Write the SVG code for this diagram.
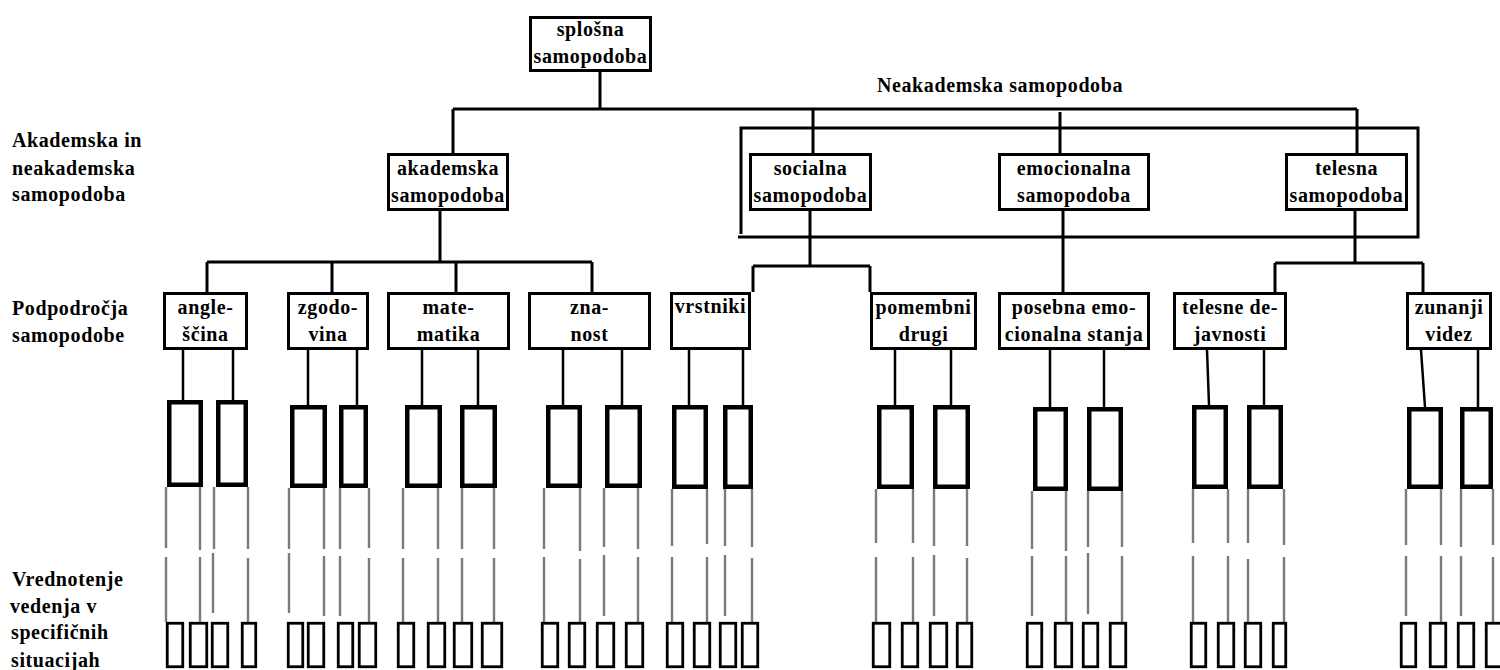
<svg xmlns="http://www.w3.org/2000/svg" width="1500" height="670" viewBox="0 0 1500 670">
<style>
.t{font-family:"Liberation Serif","Times New Roman",serif;font-weight:bold;font-size:20px;letter-spacing:0.6px;fill:#000}
.c{text-anchor:middle}
.box{fill:#fff;stroke:#000;stroke-width:3}
.mbox{fill:#fff;stroke:#000;stroke-width:4.5}
.sbox{fill:none;stroke:#000;stroke-width:2.8}
.ln{stroke:#000;stroke-width:3;fill:none}
.th{stroke:#000;stroke-width:2.5;fill:none}
.gr{stroke:#7a7a7a;stroke-width:2.4;fill:none}
</style>
<rect width="1500" height="670" fill="#fff"/>

<g id="labels">
<text class="t" x="12" y="147">Akademska in</text>
<text class="t" x="12" y="175">neakademska</text>
<text class="t" x="12" y="201">samopodoba</text>
<text class="t" x="12" y="315">Podpodročja</text>
<text class="t" x="12" y="342">samopodobe</text>
<text class="t" x="12" y="586">Vrednotenje</text>
<text class="t" x="10" y="613">vedenja v</text>
<text class="t" x="11" y="639">specifičnih</text>
<text class="t" x="11" y="667">situacijah</text>
<text class="t" x="877" y="92">Neakademska samopodoba</text>
</g>

<g id="connectors">
<path class="ln" d="M600,72 V109 M453,109 H1357 M453,109 V153 M813,109 V153 M1060,112 V153 M1357,109 V153"/>
<path class="ln" d="M741,234 V128 H1418 V237 H738"/>
<path class="ln" d="M440,211 V262 M207,262 H592 M207,262 V292 M332,262 V292 M456,262 V292 M592,262 V292"/>
<path class="ln" d="M810,211 V266 M753,266 H870 M753,266 V292 M870,266 V292"/>
<path class="ln" d="M1063,211 V292"/>
<path class="ln" d="M1355,211 V263 M1275,263 H1423 M1275,263 V292 M1423,263 V292"/>
<path class="th" d="M183,350 V400 M233,350 V400 M308,350 V405 M357,350 V405 M422,350 V405 M478,350 V405 M563,350 V405 M622,350 V405 M689,350 V405 M743,350 V405 M895,350 V405 M951,350 V405 M1050,350 V407 M1104,350 V407 M1207,350 L1209,405 M1264,350 V405 M1421,350 L1425,407 M1478,350 V407"/>
<path class="gr" d="M166,487 V548 M200,487 V550 M214,487 V549 M248,487 V549 M289,488 V549 M324,488 V549 M340,488 V549 M369,488 V548 M403,488 V549 M438,488 V549 M462,488 V549 M494,488 V549 M544,488 V549 M580,488 V551 M604,488 V547 M638,488 V549 M672,489 V546 M707,489 V544 M725,489 V546 M752,489 V547 M876,489 V543 M913,489 V543 M934,489 V546 M967,489 V546 M1032,491 V549 M1066,491 V551 M1088,491 V547 M1122,491 V547 M1193,489 V543 M1228,489 V543 M1248,489 V543 M1284,489 V545 M1406,489 V545 M1441,489 V545 M1461,489 V547 M1493,489 V545"/>
<path class="gr" d="M166,557 V622 M200,557 V622 M213,553 V613 M248,558 V622 M289,553 V613 M324,556 V616 M340,556 V616 M369,558 V622 M403,558 V622 M438,558 V622 M462,558 V622 M494,558 V622 M544,557 V622 M580,559 V622 M604,555 V616 M638,557 V622 M672,557 V622 M707,557 V622 M725,555 V616 M752,558 V622 M876,557 V622 M913,557 V622 M934,555 V616 M967,558 V622 M1032,556 V616 M1066,556 V622 M1088,553 V614 M1122,556 V622 M1193,556 V622 M1228,556 V622 M1248,559 V622 M1284,557 V622 M1406,556 V616 M1441,556 V622 M1461,556 V616 M1493,557 V622"/>
</g>

<g id="n-splosna"><rect class="box" x="530.5" y="17.5" width="120" height="53"/><text class="t c" x="590.5" y="36">splošna</text><text class="t c" x="590.5" y="63">samopodoba</text></g>

<g id="n-akademska"><rect class="box" x="388.5" y="154.5" width="119" height="55"/><text class="t c" x="448" y="175">akademska</text><text class="t c" x="448" y="202">samopodoba</text></g>
<g id="n-socialna"><rect class="box" x="750.5" y="154.5" width="120" height="55"/><text class="t c" x="810.5" y="175">socialna</text><text class="t c" x="810.5" y="202">samopodoba</text></g>
<g id="n-emocionalna"><rect class="box" x="999.5" y="154.5" width="149" height="55"/><text class="t c" x="1074" y="175">emocionalna</text><text class="t c" x="1074" y="202">samopodoba</text></g>
<g id="n-telesna"><rect class="box" x="1286.5" y="154.5" width="120" height="55"/><text class="t c" x="1346.5" y="175">telesna</text><text class="t c" x="1346.5" y="202">samopodoba</text></g>

<g id="n-anglescina"><rect class="box" x="164.5" y="293.5" width="82" height="55"/><text class="t c" x="205.5" y="314">angle-</text><text class="t c" x="205.5" y="341">ščina</text></g>
<g id="n-zgodovina"><rect class="box" x="288.5" y="293.5" width="79" height="55"/><text class="t c" x="328" y="314">zgodo-</text><text class="t c" x="328" y="341">vina</text></g>
<g id="n-matematika"><rect class="box" x="388.5" y="293.5" width="120" height="55"/><text class="t c" x="448.5" y="314">mate-</text><text class="t c" x="448.5" y="341">matika</text></g>
<g id="n-znanost"><rect class="box" x="529.5" y="293.5" width="120" height="55"/><text class="t c" x="589.5" y="314">zna-</text><text class="t c" x="589.5" y="341">nost</text></g>
<g id="n-vrstniki"><rect class="box" x="671.5" y="293.5" width="78" height="55"/><text class="t c" x="710.5" y="313">vrstniki</text></g>
<g id="n-pomembni"><rect class="box" x="871.5" y="293.5" width="104" height="55"/><text class="t c" x="923.5" y="314">pomembni</text><text class="t c" x="923.5" y="341">drugi</text></g>
<g id="n-posebna"><rect class="box" x="999.5" y="293.5" width="149" height="55"/><text class="t c" x="1074" y="314">posebna emo-</text><text class="t c" x="1074" y="341">cionalna stanja</text></g>
<g id="n-telesne"><rect class="box" x="1174.5" y="293.5" width="111" height="55"/><text class="t c" x="1230" y="314">telesne de-</text><text class="t c" x="1230" y="341">javnosti</text></g>
<g id="n-zunanji"><rect class="box" x="1407.5" y="293.5" width="83" height="55"/><text class="t c" x="1449" y="314">zunanji</text><text class="t c" x="1449" y="341">videz</text></g>

<g id="n-medium">
<rect class="mbox" x="169.25" y="402.25" width="31.5" height="82.5"/>
<rect class="mbox" x="218.25" y="402.25" width="27.5" height="82.5"/>
<rect class="mbox" x="292.25" y="407.25" width="32.5" height="78.5"/>
<rect class="mbox" x="341.25" y="407.25" width="24.5" height="78.5"/>
<rect class="mbox" x="407.25" y="407.25" width="32.5" height="78.5"/>
<rect class="mbox" x="462.25" y="407.25" width="32.5" height="78.5"/>
<rect class="mbox" x="548.25" y="407.25" width="31.5" height="78.5"/>
<rect class="mbox" x="607.25" y="407.25" width="32.5" height="78.5"/>
<rect class="mbox" x="674.25" y="407.25" width="31.5" height="79.5"/>
<rect class="mbox" x="725.25" y="407.25" width="25.5" height="79.5"/>
<rect class="mbox" x="879.25" y="407.25" width="32.5" height="79.5"/>
<rect class="mbox" x="935.25" y="407.25" width="32.5" height="79.5"/>
<rect class="mbox" x="1035.25" y="409.25" width="30.5" height="79.5"/>
<rect class="mbox" x="1089.25" y="409.25" width="31.5" height="79.5"/>
<rect class="mbox" x="1194.25" y="407.25" width="31.5" height="79.5"/>
<rect class="mbox" x="1249.25" y="407.25" width="31.5" height="79.5"/>
<rect class="mbox" x="1409.25" y="409.25" width="31.5" height="77.5"/>
<rect class="mbox" x="1462.25" y="409.25" width="28.5" height="77.5"/>
</g>

<g id="n-small">
<rect class="sbox" x="167.25" y="623.25" width="15.5" height="43.5"/>
<rect class="sbox" x="190.25" y="623.25" width="16.5" height="43.5"/>
<rect class="sbox" x="212.25" y="623.25" width="15.5" height="43.5"/>
<rect class="sbox" x="242.25" y="623.25" width="13.5" height="43.5"/>
<rect class="sbox" x="288.25" y="623.25" width="14.5" height="43.5"/>
<rect class="sbox" x="308.25" y="623.25" width="15.5" height="43.5"/>
<rect class="sbox" x="338.25" y="623.25" width="14.5" height="43.5"/>
<rect class="sbox" x="359.25" y="623.25" width="16.5" height="43.5"/>
<rect class="sbox" x="398.25" y="623.25" width="15.5" height="43.5"/>
<rect class="sbox" x="428.25" y="623.25" width="16.5" height="43.5"/>
<rect class="sbox" x="454.25" y="623.25" width="17.5" height="43.5"/>
<rect class="sbox" x="482.25" y="623.25" width="19.5" height="43.5"/>
<rect class="sbox" x="542.25" y="623.25" width="15.5" height="43.5"/>
<rect class="sbox" x="569.25" y="623.25" width="15.5" height="43.5"/>
<rect class="sbox" x="597.25" y="623.25" width="16.5" height="43.5"/>
<rect class="sbox" x="626.25" y="623.25" width="16.5" height="43.5"/>
<rect class="sbox" x="667.25" y="623.25" width="15.5" height="43.5"/>
<rect class="sbox" x="694.25" y="623.25" width="15.5" height="43.5"/>
<rect class="sbox" x="720.25" y="623.25" width="15.5" height="43.5"/>
<rect class="sbox" x="742.25" y="623.25" width="15.5" height="43.5"/>
<rect class="sbox" x="873.25" y="623.25" width="16.5" height="43.5"/>
<rect class="sbox" x="902.25" y="623.25" width="15.5" height="43.5"/>
<rect class="sbox" x="930.25" y="623.25" width="16.5" height="43.5"/>
<rect class="sbox" x="957.25" y="623.25" width="14.5" height="43.5"/>
<rect class="sbox" x="1027.25" y="623.25" width="14.5" height="43.5"/>
<rect class="sbox" x="1055.25" y="623.25" width="16.5" height="43.5"/>
<rect class="sbox" x="1083.25" y="623.25" width="14.5" height="43.5"/>
<rect class="sbox" x="1110.25" y="623.25" width="15.5" height="43.5"/>
<rect class="sbox" x="1191.25" y="623.25" width="14.5" height="43.5"/>
<rect class="sbox" x="1218.25" y="623.25" width="15.5" height="43.5"/>
<rect class="sbox" x="1245.25" y="623.25" width="15.5" height="43.5"/>
<rect class="sbox" x="1273.25" y="623.25" width="12.5" height="43.5"/>
<rect class="sbox" x="1401.25" y="623.25" width="14.5" height="43.5"/>
<rect class="sbox" x="1430.25" y="623.25" width="15.5" height="43.5"/>
<rect class="sbox" x="1458.25" y="623.25" width="15.5" height="43.5"/>
<rect class="sbox" x="1486.25" y="623.25" width="16.5" height="43.5"/>
</g>
</svg>
